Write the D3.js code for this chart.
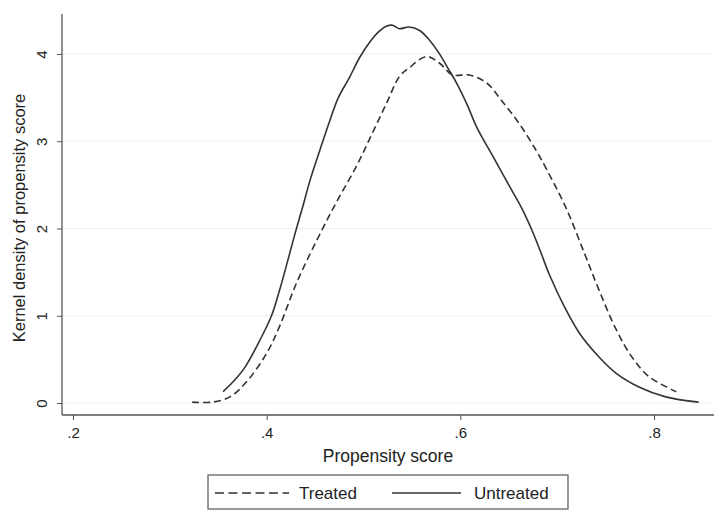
<!DOCTYPE html>
<html>
<head>
<meta charset="utf-8">
<script src="https://cdn.jsdelivr.net/npm/d3@7"></script>
<style>
  body { margin: 0; background: #fff; }
  text { font-family: "Liberation Sans", Arial, sans-serif; fill: #222; }
</style>
</head>
<body>
<div id="chart"></div>
<script>
var width = 720;
var height = 528;

var xTicks = [0.2, 0.4, 0.6, 0.8];
var yTicks = [0, 1, 2, 3, 4];

// Untreated (solid)
var untreatedX = [0.355, 0.365, 0.377, 0.393, 0.405, 0.413, 0.421, 0.429, 0.437, 0.445, 0.455, 0.465, 0.474, 0.485, 0.496, 0.506, 0.516, 0.524, 0.530, 0.537, 0.547, 0.558, 0.568, 0.578, 0.587, 0.596, 0.607, 0.617, 0.633, 0.651, 0.664, 0.674, 0.683, 0.692, 0.709, 0.723, 0.743, 0.761, 0.785, 0.812, 0.846];
var untreatedY = [0.13, 0.24, 0.40, 0.72, 1.00, 1.28, 1.60, 1.93, 2.24, 2.56, 2.90, 3.23, 3.50, 3.72, 3.96, 4.13, 4.26, 4.32, 4.33, 4.29, 4.31, 4.27, 4.16, 4.01, 3.84, 3.67, 3.42, 3.16, 2.84, 2.48, 2.22, 1.98, 1.73, 1.47, 1.07, 0.80, 0.53, 0.34, 0.18, 0.07, 0.01];

// Treated (dashed)
var treatedX = [0.323, 0.344, 0.362, 0.379, 0.400, 0.413, 0.431, 0.452, 0.472, 0.493, 0.509, 0.524, 0.537, 0.547, 0.565, 0.578, 0.592, 0.609, 0.627, 0.643, 0.661, 0.678, 0.689, 0.709, 0.728, 0.743, 0.761, 0.777, 0.795, 0.823];
var treatedY = [0.01, 0.01, 0.07, 0.24, 0.57, 0.87, 1.38, 1.87, 2.30, 2.72, 3.09, 3.44, 3.74, 3.84, 3.97, 3.90, 3.76, 3.76, 3.67, 3.46, 3.20, 2.90, 2.68, 2.24, 1.72, 1.30, 0.84, 0.53, 0.30, 0.13];

var series = [
  { name: "Treated", xs: treatedX, ys: treatedY, dash: "7,4" },
  { name: "Untreated", xs: untreatedX, ys: untreatedY, dash: null }
];

var plotLeft = 62, plotRight = 714, plotTop = 14, plotBottom = 415;

/* Scale */
var xScale = d3.scaleLinear().domain([0.2, 0.8]).range([73, 654]);
var yScale = d3.scaleLinear().domain([0, 4]).range([403, 54]);

var svg = d3.select("#chart").append("svg")
  .attr("width", width)
  .attr("height", height);

/* Grid */
svg.append("g")
  .selectAll("line")
  .data(yTicks)
  .enter()
  .append("line")
  .attr("x1", plotLeft + 1)
  .attr("x2", plotRight - 2)
  .attr("y1", d => yScale(d))
  .attr("y2", d => yScale(d))
  .style("stroke", "#eeeeee")
  .style("stroke-width", 1.2);

/* Axes */
var yAxis = d3.axisLeft(yScale).tickValues(yTicks).tickSize(5).tickFormat(d3.format("d"));
var gy = svg.append("g")
  .attr("transform", `translate(${plotLeft},0)`)
  .call(yAxis);
gy.select(".domain").remove();
gy.append("line")
  .attr("x1", 0).attr("x2", 0)
  .attr("y1", plotTop).attr("y2", plotBottom)
  .style("stroke", "#555").style("stroke-width", 1.3);
gy.selectAll(".tick line").style("stroke", "#555");
gy.selectAll(".tick text")
  .attr("x", null).attr("dy", null)
  .attr("transform", "translate(-15,0) rotate(-90)")
  .attr("text-anchor", "middle")
  .style("font-size", "15px")
  .style("font-family", "Liberation Sans, Arial, sans-serif")
  .style("fill", "#222");

var xAxis = d3.axisBottom(xScale).tickValues(xTicks).tickSize(5)
  .tickFormat(d => d3.format(".1f")(d).replace(/^0/, ""));
var gx = svg.append("g")
  .attr("transform", `translate(0,${plotBottom})`)
  .call(xAxis);
gx.select(".domain").remove();
gx.append("line")
  .attr("x1", plotLeft).attr("x2", plotRight)
  .attr("y1", 0).attr("y2", 0)
  .style("stroke", "#555").style("stroke-width", 1.3);
gx.selectAll(".tick line").style("stroke", "#555");
gx.selectAll(".tick text")
  .attr("y", 12)
  .style("font-size", "15px")
  .style("font-family", "Liberation Sans, Arial, sans-serif")
  .style("fill", "#222");

/* Axis titles */
svg.append("text")
  .attr("x", (plotLeft + plotRight) / 2)
  .attr("y", 462)
  .attr("text-anchor", "middle")
  .style("font-size", "17.5px")
  .text("Propensity score");

svg.append("text")
  .attr("transform", `translate(25,218) rotate(-90)`)
  .attr("text-anchor", "middle")
  .style("font-size", "16.5px")
  .text("Kernel density of propensity score");

/* Lines */
var line = d3.line()
  .x(d => xScale(d[0]))
  .y(d => yScale(d[1]))
  .curve(d3.curveCatmullRom);

svg.append("g")
  .selectAll("path")
  .data(series)
  .enter()
  .append("path")
  .attr("d", d => line(d.xs.map((x, i) => [x, d.ys[i]])))
  .style("fill", "none")
  .style("stroke", "#333")
  .style("stroke-width", 1.6)
  .style("stroke-dasharray", d => d.dash);

/* Legend */
var legend = svg.append("g");
legend.append("rect")
  .attr("x", 208).attr("y", 475)
  .attr("width", 360).attr("height", 34)
  .style("fill", "#fff")
  .style("stroke", "#555")
  .style("stroke-width", 1.2);

var legendItems = [
  { name: "Treated", x1: 215, x2: 289, tx: 299, dash: "9,4.5" },
  { name: "Untreated", x1: 392, x2: 461, tx: 474, dash: null }
];

legend.selectAll(".legend-line")
  .data(legendItems)
  .enter()
  .append("line")
  .attr("x1", d => d.x1).attr("x2", d => d.x2)
  .attr("y1", 493).attr("y2", 493)
  .style("stroke", "#333")
  .style("stroke-width", 1.6)
  .style("stroke-dasharray", d => d.dash);

legend.selectAll(".legend-text")
  .data(legendItems)
  .enter()
  .append("text")
  .attr("x", d => d.tx)
  .attr("y", 499)
  .style("font-size", "17px")
  .text(d => d.name);
</script>
</body>
</html>
